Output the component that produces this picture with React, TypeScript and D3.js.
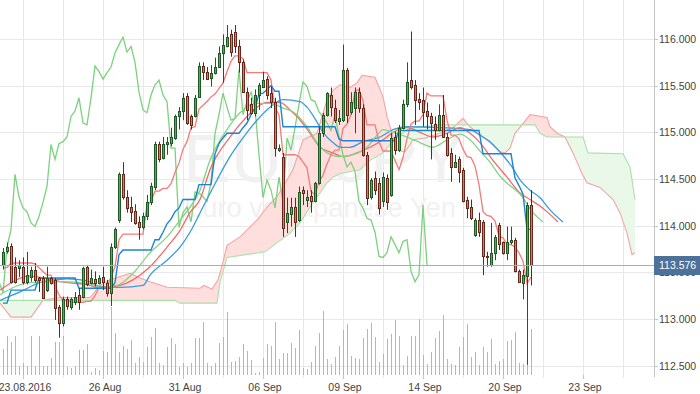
import React from 'react'
import * as d3 from 'd3'

const W = 700
const H = 394
const PLOT_R = 654
const VOL_BASE = 375
const FONT = '"Liberation Sans", Arial, sans-serif'

// EURJPY candles, [open, high, low, close]
const candles: number[][] = [
  [113.58, 113.76, 113.53, 113.72], [113.73, 113.82, 113.7, 113.77], [113.78, 113.81, 113.38, 113.4], [113.56, 113.66, 113.38, 113.4],
  [113.55, 113.63, 113.45, 113.58], [113.56, 113.66, 113.37, 113.4], [113.4, 113.72, 113.37, 113.47], [113.45, 113.56, 113.4, 113.53],
  [113.53, 113.6, 113.39, 113.42], [113.44, 113.45, 113.29, 113.42], [113.44, 113.46, 113.22, 113.23], [113.31, 113.56, 113.29, 113.44],
  [113.44, 113.45, 113.37, 113.39], [113.42, 113.44, 112.99, 113.12], [113.13, 113.15, 112.8, 112.96], [112.96, 113.24, 112.92, 113.21],
  [113.21, 113.24, 113.1, 113.14], [113.13, 113.23, 113.1, 113.21], [113.18, 113.29, 113.15, 113.24], [113.26, 113.33, 113.1, 113.18],
  [113.24, 113.56, 113.22, 113.55], [113.56, 113.58, 113.35, 113.37], [113.39, 113.53, 113.37, 113.44], [113.43, 113.51, 113.35, 113.39],
  [113.39, 113.47, 113.37, 113.44], [113.45, 113.56, 113.31, 113.4], [113.39, 113.42, 113.24, 113.28], [113.28, 113.81, 113.14, 113.77],
  [113.77, 113.98, 113.75, 113.96], [114.06, 114.57, 114.03, 114.55], [114.55, 114.68, 114.28, 114.31], [114.31, 114.38, 114.14, 114.19],
  [114.2, 114.31, 114.04, 114.15], [114.16, 114.23, 114.01, 114.03], [114.04, 114.1, 113.85, 113.99], [113.99, 114.14, 113.96, 114.1],
  [114.1, 114.33, 114.06, 114.25], [114.25, 114.46, 114.22, 114.42], [114.41, 114.9, 114.38, 114.87], [114.88, 114.9, 114.68, 114.71],
  [114.73, 114.95, 114.71, 114.88], [114.87, 114.95, 114.76, 114.9], [114.89, 115.05, 114.85, 114.95], [114.94, 115.19, 114.92, 115.17],
  [115.17, 115.27, 115.03, 115.23], [115.23, 115.42, 115.13, 115.37], [115.39, 115.42, 115.08, 115.1], [115.17, 115.19, 115.03, 115.08],
  [115.17, 115.4, 115.16, 115.37], [115.38, 115.75, 115.37, 115.71], [115.71, 115.75, 115.56, 115.65], [115.65, 115.7, 115.56, 115.57],
  [115.58, 115.72, 115.49, 115.64], [115.64, 115.8, 115.62, 115.7], [115.7, 115.92, 115.69, 115.85], [115.85, 116.05, 115.53, 115.94],
  [115.92, 116.15, 115.91, 116.02], [116.05, 116.1, 115.81, 115.86], [116.08, 116.15, 115.85, 115.92], [115.92, 115.99, 115.64, 115.75],
  [115.75, 115.78, 115.42, 115.43], [115.43, 115.48, 115.13, 115.24], [115.3, 115.37, 115.19, 115.21], [115.21, 115.46, 115.17, 115.4],
  [115.4, 115.53, 115.24, 115.51], [115.49, 115.65, 115.48, 115.56], [115.57, 115.6, 115.35, 115.4], [115.42, 115.49, 115.26, 115.33],
  [115.33, 115.37, 114.74, 114.83], [114.81, 114.87, 114.79, 114.83], [114.74, 114.78, 113.88, 113.98], [114.04, 114.3, 113.92, 114.14],
  [114.12, 114.3, 113.99, 114.2], [114.2, 114.3, 113.88, 114.04], [114.06, 114.42, 114.04, 114.36], [114.38, 114.42, 114.22, 114.35],
  [114.28, 114.38, 114.2, 114.31], [114.32, 114.38, 114.14, 114.26], [114.26, 114.47, 114.25, 114.46], [114.46, 115.06, 114.44, 114.99],
  [114.99, 115.21, 114.95, 115.19], [115.19, 115.43, 115.17, 115.42], [115.4, 115.48, 115.17, 115.27], [115.26, 115.35, 115.1, 115.13],
  [115.12, 115.24, 115.08, 115.15], [115.13, 115.94, 115.11, 115.67], [115.67, 115.69, 115.1, 115.19], [115.22, 115.43, 115.19, 115.33],
  [115.26, 115.48, 114.99, 115.43], [115.43, 115.48, 115.21, 115.26], [115.26, 115.3, 114.74, 114.76], [114.76, 114.79, 114.22, 114.3],
  [114.31, 114.51, 114.28, 114.49], [114.51, 114.58, 114.33, 114.38], [114.46, 114.51, 114.12, 114.19], [114.26, 114.57, 114.2, 114.52],
  [114.51, 114.55, 114.17, 114.25], [114.33, 114.99, 114.31, 114.94], [114.95, 115.01, 114.76, 114.81], [114.81, 115.08, 114.79, 115.05],
  [115.05, 115.35, 115.03, 115.3], [115.3, 115.75, 115.27, 115.54], [115.56, 116.08, 115.46, 115.49], [115.51, 115.56, 115.08, 115.35],
  [115.36, 115.42, 115.24, 115.33], [115.35, 115.48, 115.06, 115.22], [115.23, 115.32, 115.03, 115.17], [115.17, 115.21, 114.71, 115.1],
  [115.09, 115.17, 114.92, 115.02], [115.03, 115.3, 115.01, 115.19], [115.19, 115.4, 114.94, 114.95], [114.95, 114.99, 114.74, 114.76],
  [114.78, 114.83, 114.47, 114.63], [114.63, 114.76, 114.62, 114.68], [114.71, 114.74, 114.46, 114.58], [114.6, 114.62, 114.25, 114.26],
  [114.28, 114.31, 114.08, 114.19], [114.2, 114.28, 114.06, 114.08], [113.9, 114.08, 113.88, 114.06], [114.06, 114.14, 113.88, 113.93],
  [114.04, 114.06, 113.47, 113.67], [113.67, 113.72, 113.56, 113.66], [113.58, 114.03, 113.56, 113.71], [113.71, 113.9, 113.63, 113.88],
  [114.01, 114.03, 113.74, 113.8], [113.82, 113.83, 113.69, 113.71], [113.71, 113.99, 113.63, 113.83], [113.83, 113.99, 113.8, 113.85],
  [113.85, 113.87, 113.5, 113.51], [113.51, 113.53, 113.39, 113.4], [113.39, 113.53, 113.21, 113.47], [113.46, 114.25, 112.51, 114.22],
  [114.22, 114.38, 113.36, 113.576],
]

const volumes = [
  26, 39, 33, 39, 9, 12, 9, 39, 9, 39, 9, 9, 17, 33, 33, 39, 8, 7, 9, 25, 25, 31, 3, 7, 5, 24, 23, 68, 42, 23,
  29, 26, 35, 12, 18, 13, 28, 38, 47, 12, 10, 28, 37, 31, 8, 12, 8, 12, 37, 37, 53, 12, 9, 12, 32,
  38, 63, 13, 14, 18, 31, 24, 15, 2, 3, 17, 31, 29, 53, 16, 22, 22, 32, 27, 45, 7, 6, 13, 29, 42,
  64, 16, 11, 18, 29, 45, 51, 19, 17, 16, 37, 46, 52, 38, 13, 21, 36, 41, 55, 39, 10, 19, 39, 39, 56,
  20, 11, 23, 37, 44, 60, 16, 11, 10, 28, 38, 51, 18, 23, 10, 28, 23, 36, 11, 14, 16, 34, 35, 43, 12,
  11, 30, 46,
]

// ichimoku: conversion line (tenkan) and base line (kijun), [candle index, value] where it changes
const tenkan = [
  [0, 113.55], [2, 113.6], [8, 113.59], [9, 113.55], [10, 113.51], [11, 113.47], [13, 113.35], [14, 113.26], [15, 113.2],
  [17, 113.18], [21, 113.19], [23, 113.25], [24, 113.34], [27, 113.45], [28, 113.56], [29, 113.85], [30, 113.91],
  [36, 114.22], [37, 114.26], [38, 114.37], [40, 114.4], [42, 114.45], [43, 114.57], [44, 114.67], [45, 114.82],
  [46, 114.9], [47, 115.05], [48, 115.06], [49, 115.25], [50, 115.29], [51, 115.33], [52, 115.38], [53, 115.41],
  [54, 115.47], [55, 115.53], [56, 115.65], [57, 115.76], [58, 115.82], [60, 115.79], [61, 115.64], [67, 115.56],
  [68, 115.26], [69, 115.19], [70, 114.76], [74, 114.74], [75, 114.68], [76, 114.62], [77, 114.37], [78, 114.33],
  [79, 114.47], [80, 114.54], [81, 114.66], [82, 114.76], [83, 114.81], [85, 115.04], [86, 115.09], [87, 115.19],
  [88, 115.44], [89, 115.46], [90, 115.34], [91, 115.08], [94, 114.9], [95, 114.8], [98, 114.7], [99, 114.6],
  [100, 114.73], [101, 114.93], [102, 115.09], [103, 115.12], [105, 115.19], [106, 115.42], [107, 115.39],
  [111, 115.13], [112, 114.97], [114, 114.93], [115, 114.82], [116, 114.74], [117, 114.73], [118, 114.64],
  [119, 114.44], [120, 114.15], [121, 114.11], [122, 114.1], [123, 114.05], [124, 113.89], [125, 113.87],
  [126, 113.8], [128, 113.77], [129, 113.71], [130, 113.62], [131, 113.38], [132, 113.45],
]
const kijun = [
  [0, 113.17], [2, 113.31], [9, 113.44], [19, 113.33], [28, 113.39], [29, 113.69], [30, 113.74], [38, 113.85],
  [40, 113.93], [41, 114.02], [42, 114.07], [43, 114.15], [44, 114.19], [45, 114.28], [49, 114.44], [53, 114.77],
  [54, 114.88], [55, 114.94], [56, 114.99], [60, 115.05], [61, 115.1], [62, 115.19], [63, 115.26], [64, 115.41],
  [65, 115.42], [66, 115.46], [67, 115.5], [68, 115.44], [70, 115.06], [84, 114.93], [85, 114.91], [99, 115.02],
  [120, 114.77], [128, 114.51], [129, 114.43], [130, 114.34], [131, 113.96], [132, 113.96],
]
// leading spans (cloud), shifted 26 ahead
const spanA = [
  [-0.75, 113.17], [2, 113.02], [7, 113.02], [10, 113.2], [14.25, 113.23], [21.75, 113.23], [24.25, 113.36],
  [26.75, 113.42], [31.75, 113.49], [34.25, 113.44], [36.75, 113.4], [41, 113.34], [49.25, 113.33], [50.25, 113.36],
  [52.25, 113.32], [53.75, 113.42], [55, 113.61], [56, 113.79], [59.25, 113.88], [63.5, 114.06], [66, 114.2],
  [68.5, 114.31], [71, 114.49], [72.5, 114.6], [75, 114.92], [78.5, 114.99], [81, 115.35], [82.5, 115.45],
  [84.25, 115.51], [86.75, 115.48], [88.5, 115.53], [89.75, 115.61], [93, 115.59], [95, 115.38], [96, 115.17],
  [98.5, 114.81], [100.5, 114.79], [102.5, 114.92], [105.5, 114.94], [109.25, 114.99], [112.5, 115.05], [115, 115.15],
  [116.75, 115.06], [119.25, 114.97], [121.75, 114.89], [124.25, 114.79], [125.5, 114.78], [126.75, 114.83],
  [128, 114.99], [129.75, 115.08], [131.75, 115.19], [136, 115.16], [136.75, 115.06], [138.5, 114.99], [140.5, 114.95],
  [142.5, 114.78], [144.75, 114.56], [146, 114.46], [149.25, 114.41], [152.5, 114.28], [154.25, 114.14], [156, 113.92],
  [157.25, 113.69], [158, 113.71],
]
const spanB = [
  [-0.75, 113.2], [43, 113.2], [44.25, 113.17], [53.5, 113.17], [54.25, 113.39], [56, 113.66], [65.5, 113.72],
  [71.75, 113.92], [74.25, 114.03], [76, 114.15], [77.5, 114.25], [79.25, 114.35], [81, 114.46], [82.5, 114.52],
  [84.25, 114.56], [89.25, 114.6], [91.75, 114.7], [95, 114.78], [98.5, 114.95], [101, 115.03], [104.25, 115.06],
  [109.25, 115.08], [133, 115.08], [134.25, 114.99], [136, 114.95], [145, 114.95], [146.25, 114.78], [155, 114.77],
  [156.75, 114.63], [158, 114.28],
]
// alligator: jaw, teeth, lips (displaced forward)
const jaw = [
  [-0.75, 113.2], [4.25, 113.29], [9.25, 113.39], [16, 113.43], [21, 113.41], [24.25, 113.35], [29.25, 113.34],
  [35, 113.36], [36.75, 113.47], [41, 113.63], [44.25, 113.77], [46.75, 113.93], [50, 114.2], [53.5, 114.49],
  [56.75, 114.74], [60, 114.94], [63.5, 115.13], [66.75, 115.27], [70, 115.35], [74.25, 115.33], [76, 115.27],
  [78.5, 115.11], [80, 115.0], [82.5, 114.89], [84.25, 114.84], [86.75, 114.84], [90, 114.9], [94.25, 114.95],
  [97.5, 115.03], [101, 115.06], [109.25, 115.05], [116.75, 115.03], [119.25, 114.97], [121.75, 114.9],
  [124.25, 114.79], [127.25, 114.63], [129.25, 114.49], [131.75, 114.38], [134.25, 114.3], [136.75, 114.17], [140, 114.04],
]
const teeth = [
  [-0.75, 113.31], [6.75, 113.46], [14.25, 113.4], [21.75, 113.36], [24.25, 113.33], [29.25, 113.36], [32.5, 113.42],
  [36.75, 113.56], [41, 113.77], [44.25, 113.95], [46.75, 114.14], [49.25, 114.28], [51.75, 114.6], [56.75, 114.95],
  [61, 115.17], [63.5, 115.27], [66, 115.32], [69.25, 115.32], [71.75, 115.24], [73.5, 115.17], [76.75, 114.99],
  [79.25, 114.84], [82.5, 114.78], [85, 114.74], [88.5, 114.78], [91.75, 114.84], [95, 114.92], [97.5, 115.0],
  [101, 115.05], [104.25, 115.0], [107.5, 114.95], [111, 114.99], [114.25, 115.05], [116.75, 114.99], [119.25, 114.89],
  [122.5, 114.7], [126, 114.52], [129.25, 114.35], [131.75, 114.28], [134.25, 114.21], [136.25, 114.14], [138.75, 114.04],
]
const lips = [
  [-0.75, 113.26], [6.75, 113.39], [14.25, 113.4], [21.75, 113.38], [24.25, 113.34], [28.5, 113.36], [32.5, 113.49],
  [36.75, 113.71], [41, 113.88], [44.25, 114.06], [46.75, 114.2], [49.25, 114.38], [51.75, 114.7], [56, 115.03],
  [59.25, 115.21], [63.5, 115.31], [66.75, 115.31], [70, 115.26], [72.5, 115.22], [76, 115.06], [78.5, 114.89],
  [81, 114.78], [84.25, 114.74], [87.5, 114.76], [91, 114.84], [93.5, 114.97], [95, 115.03], [97.5, 115.0],
  [101, 114.95], [104.25, 114.89], [107.5, 114.84], [111, 114.92], [114.25, 114.98], [116.75, 114.92], [119.25, 114.8],
  [121.75, 114.68], [124.25, 114.53], [126.75, 114.43], [129.25, 114.34], [132.5, 114.14], [135, 114.04],
]

const priceTicks = [112.5, 113, 113.5, 114, 114.5, 115, 115.5, 116]
const dateTicks: [number, string][] = [
  [5, '23.08.2016'], [25, '26 Aug'], [45, '31 Aug'], [65, '06 Sep'],
  [85, '09 Sep'], [105, '14 Sep'], [125, '20 Sep'], [145, '23 Sep'],
]
const gridIdx = d3.range(5, 630 / 4, 10)
const lastPrice = 113.576

const x = d3.scaleLinear().domain([-0.75, 162.75]).range([0, PLOT_R])
const y = d3.scaleLinear().domain([112.5, 116]).range([365.7, 39])
const vy = d3.scaleLinear().domain([0, 100]).range([VOL_BASE, VOL_BASE - 100])

// a step series drawn bar to bar, as the chart does
const ramp = (pts: number[][]) => {
  const out: number[][] = [pts[0]]
  for (let k = 1; k < pts.length; k++) {
    out.push([pts[k][0] - 1, pts[k - 1][1]])
    out.push(pts[k])
  }
  return out
}

export default function App() {
  const line = d3.line<number[]>().x(d => x(d[0])).y(d => y(d[1]))
  const smooth = d3.line<number[]>().x(d => x(d[0])).y(d => y(d[1])).curve(d3.curveMonotoneX)
  const above = d3.area<number[]>().x(d => x(d[0])).y0(0).y1(d => y(d[1]))
  const below = d3.area<number[]>().x(d => x(d[0])).y0(d => y(d[1])).y1(H)

  const chikou = candles.slice(25).map((c, i) => [i - 1, c[3]])
  const lastY = Math.round(y(lastPrice))

  return (
    <svg width={W} height={H} style={{ position: 'absolute', left: 0, top: 0, background: '#fff', fontFamily: FONT }}>
      <defs>
        <clipPath id="aboveA"><path d={above(spanA) || ''} /></clipPath>
        <clipPath id="aboveB"><path d={above(spanB) || ''} /></clipPath>
        <clipPath id="underBox"><rect x={PLOT_R} y={lastY + 10} width={W - PLOT_R} height={20} /></clipPath>
      </defs>

      {/* grid */}
      {priceTicks.map(p => (
        <line key={p} x1={0} x2={PLOT_R} y1={Math.round(y(p)) + 0.5} y2={Math.round(y(p)) + 0.5} stroke="#e8e8e8" />
      ))}
      {gridIdx.map(i => (
        <line key={i} x1={x(i) + 0.5} x2={x(i) + 0.5} y1={0} y2={VOL_BASE + 3} stroke="#e8e8e8" />
      ))}

      {/* watermark */}
      <text x={183} y={182} fontSize={68} fill="#f1f1f1" textLength={282} lengthAdjust="spacingAndGlyphs">EURJPY</text>
      <text x={184} y={217} fontSize={27} fill="#f1f1f1" textLength={272} lengthAdjust="spacingAndGlyphs">Euro vs Japanese Yen</text>

      {/* volume */}
      {volumes.map((v, i) => (
        <line key={i} x1={x(i) + 0.5} x2={x(i) + 0.5} y1={VOL_BASE} y2={vy(v)} stroke="#84c5ef" />
      ))}

      {/* cloud */}
      <path d={below(spanA) || ''} fill="#ffdede" clipPath="url(#aboveB)" />
      <path d={below(spanB) || ''} fill="#e9f8e9" clipPath="url(#aboveA)" />
      <path d={line(spanA) || ''} fill="none" stroke="#f7a3a3" strokeWidth={1.1} />
      <path d={line(spanB) || ''} fill="none" stroke="#a8e2a8" strokeWidth={1.1} />

      {/* lagging span */}
      <path d={line(chikou) || ''} fill="none" stroke="#7dd17d" strokeWidth={1.3} />

      {/* alligator */}
      <path d={smooth(jaw) || ''} fill="none" stroke="#3b9bdc" strokeWidth={1.3} />
      <path d={smooth(teeth) || ''} fill="none" stroke="#f26a6a" strokeWidth={1.3} />
      <path d={smooth(lips) || ''} fill="none" stroke="#84d384" strokeWidth={1.3} />

      {/* tenkan / kijun */}
      <path d={line(ramp(tenkan)) || ''} fill="none" stroke="#f77a7a" strokeWidth={1.3} />
      <path d={line(ramp(kijun)) || ''} fill="none" stroke="#1c84d4" strokeWidth={1.4} />

      {/* candles */}
      {candles.map((c, i) => {
        const [o, h, l, cl] = c
        const up = cl >= o
        const X = Math.round(x(i))
        const top = Math.round(y(Math.max(o, cl)))
        const bot = Math.round(y(Math.min(o, cl)))
        return (
          <g key={i}>
            <line x1={X + 0.5} x2={X + 0.5} y1={y(h)} y2={y(l)} stroke={up ? '#1e5a24' : '#6a2619'} />
            <rect x={X - 0.5} y={top + 0.5} width={2} height={Math.max(1, bot - top)}
              fill={up ? '#4fae5a' : '#e9735f'} stroke={up ? '#1e5a24' : '#6a2619'} />
          </g>
        )
      })}

      {/* last price line */}
      <line x1={0} x2={PLOT_R} y1={lastY + 0.5} y2={lastY + 0.5} stroke="#a3afba" />

      {/* right axis */}
      <line x1={PLOT_R + 0.5} x2={PLOT_R + 0.5} y1={0} y2={VOL_BASE + 2} stroke="#c4c4c4" />
      {priceTicks.map(p => {
        const hidden = Math.abs(y(p) - y(lastPrice)) < 12
        return (
          <g key={p}>
            <line x1={PLOT_R} x2={PLOT_R + 4} y1={Math.round(y(p)) + 0.5} y2={Math.round(y(p)) + 0.5} stroke="#c4c4c4" />
            <text x={PLOT_R + 5} y={y(p) + 4} fontSize={10.5} fill="#444"
              clipPath={hidden ? 'url(#underBox)' : undefined}>{d3.format('.3f')(p)}</text>
          </g>
        )
      })}
      <rect x={PLOT_R} y={lastY - 9} width={W - PLOT_R} height={19} fill="#4d7199" />
      <text x={PLOT_R + 5} y={y(lastPrice) + 4} fontSize={10.5} fill="#fff">{d3.format('.3f')(lastPrice)}</text>

      {/* x axis */}
      {dateTicks.map(([i, t]) => (
        <g key={t}>
          <line x1={x(i) + 0.5} x2={x(i) + 0.5} y1={VOL_BASE} y2={VOL_BASE + 4} stroke="#c4c4c4" />
          <text x={x(i) + 2} y={391} fontSize={10.5} fill="#444" textAnchor="middle">{t}</text>
        </g>
      ))}
    </svg>
  )
}
